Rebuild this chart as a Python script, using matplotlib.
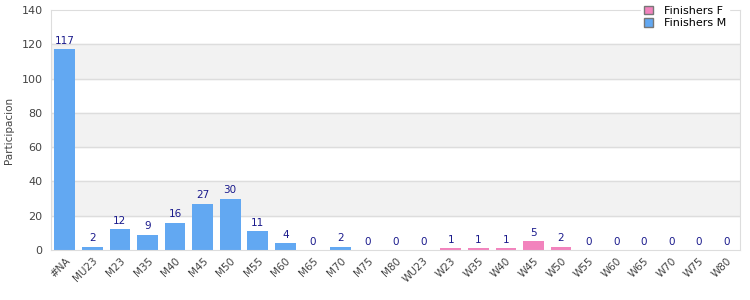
import numpy as np
import matplotlib.pyplot as plt
from matplotlib.patches import Patch

# categories and finisher counts
categories = ["#NA", "MU23", "M23", "M35", "M40", "M45", "M50", "M55", "M60", "M65",
              "M70", "M75", "M80", "WU23", "W23", "W35", "W40", "W45", "W50", "W55",
              "W60", "W65", "W70", "W75", "W80"]
finishers_m = [117, 2, 12, 9, 16, 27, 30, 11, 4, 0, 2, 0, 0, 0,
               0, 0, 0, 0, 0, 0, 0, 0, 0, 0, 0]
finishers_f = [0, 0, 0, 0, 0, 0, 0, 0, 0, 0, 0, 0, 0, 0,
               1, 1, 1, 5, 2, 0, 0, 0, 0, 0, 0]

blue = "#62a8f2"
pink = "#f283bd"
grid_c = "#dddddd"

fig = plt.figure(figsize=(7.5, 3), dpi=100)
ax = fig.add_axes([0.068, 0.1667, 0.919, 0.80])

x = np.arange(len(categories))
m = np.array(finishers_m)
f = np.array(finishers_f)

# alternating bands
for lo in range(20, 140, 40):
    ax.axhspan(lo, lo + 20, color="#f2f2f2", zorder=0)
for yv in range(20, 140, 20):
    ax.axhline(yv, color=grid_c, lw=1, zorder=1)

ax.bar(x, m, width=0.75, color=blue, zorder=2)
ax.bar(x, f, width=0.75, bottom=m, color=pink, zorder=2)

total = m + f
for xi, t in zip(x, total):
    ax.text(xi, t + 2, str(t), ha="center", va="bottom", fontsize=7.5,
            color="#1a1a8c", zorder=3)

ax.set_xlim(-0.5, len(categories) - 0.5)
ax.set_ylim(0, 140)
ax.set_yticks(range(0, 141, 20))
ax.set_xticks(x)
ax.set_xticklabels(categories, rotation=45, ha="right", rotation_mode="anchor",
                   fontsize=7.5, color="#444444")
ax.tick_params(axis="y", labelsize=8, colors="#444444", length=0, pad=6)
ax.tick_params(axis="x", length=0, pad=4)
for s in ax.spines.values():
    s.set_color(grid_c)
ax.set_ylabel("Participacion", fontsize=7.5, color="#444444")
ax.yaxis.set_label_coords(-0.054, 0.5)

handles = [Patch(facecolor=pink, edgecolor="#777777", label="Finishers F"),
           Patch(facecolor=blue, edgecolor="#777777", label="Finishers M")]
leg = fig.legend(handles=handles, loc="upper right", bbox_to_anchor=(0.98, 1.01),
                 fontsize=8, frameon=True, handlelength=0.8, handleheight=0.8,
                 handletextpad=1.0, labelspacing=0.2, borderpad=0.3)
leg.get_frame().set_edgecolor("white")
leg.get_frame().set_facecolor("white")
leg.get_frame().set_alpha(1)
leg.set_zorder(10)

fig.savefig("out.png", dpi=100)
